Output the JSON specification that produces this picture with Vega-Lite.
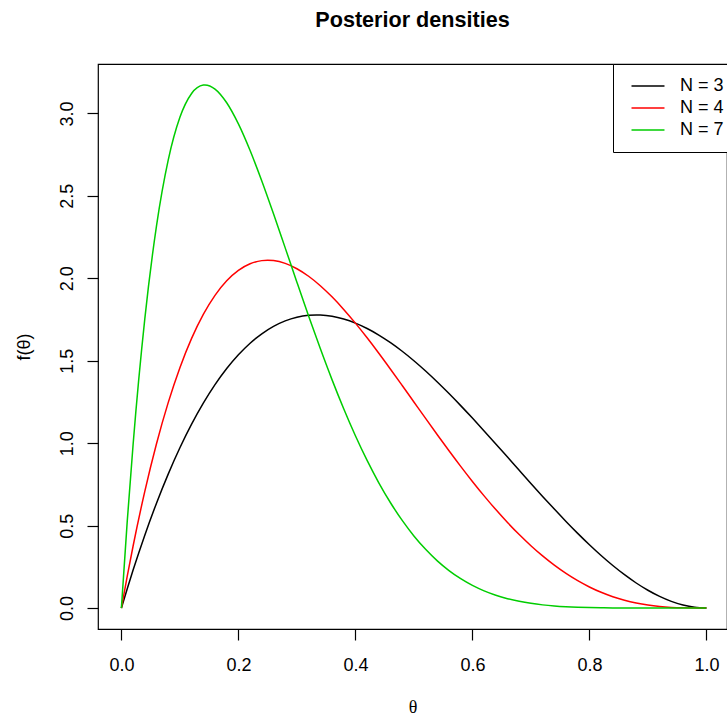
{
  "$schema": "https://vega.github.io/schema/vega-lite/v6.json",
  "autosize": {"type": "none"},
  "padding": {"left": 98, "top": 64, "right": 0, "bottom": 88},
  "width": 629,
  "height": 565,
  "background": "white",
  "title": {"text": "Posterior densities", "anchor": "middle", "frame": "group", "font": "Liberation Sans", "fontSize": 21.6, "fontWeight": "bold", "color": "black", "baseline": "alphabetic", "offset": 15},
  "config": {
    "view": {"stroke": "black", "strokeWidth": 1.2},
    "axis": {"domain": false, "grid": false, "tickColor": "black", "tickSize": 11, "tickWidth": 1.2, "labelFont": "Liberation Sans", "labelFontSize": 18, "labelColor": "black", "labelFlush": false, "labelOverlap": false, "titleColor": "black", "titleFontSize": 18, "titleFontWeight": "normal"}
  },
  "datasets": {
    "curves": [
      {"t": 0, "d": 0, "N": "N = 3"},
      {"t": 0.01, "d": 0.11761, "N": "N = 3"},
      {"t": 0.02, "d": 0.230496, "N": "N = 3"},
      {"t": 0.04, "d": 0.442368, "N": "N = 3"},
      {"t": 0.06, "d": 0.636192, "N": "N = 3"},
      {"t": 0.08, "d": 0.812544, "N": "N = 3"},
      {"t": 0.10, "d": 0.972, "N": "N = 3"},
      {"t": 0.12, "d": 1.115136, "N": "N = 3"},
      {"t": 0.14, "d": 1.242528, "N": "N = 3"},
      {"t": 0.16, "d": 1.354752, "N": "N = 3"},
      {"t": 0.18, "d": 1.452384, "N": "N = 3"},
      {"t": 0.20, "d": 1.536, "N": "N = 3"},
      {"t": 0.22, "d": 1.606176, "N": "N = 3"},
      {"t": 0.24, "d": 1.663488, "N": "N = 3"},
      {"t": 0.26, "d": 1.708512, "N": "N = 3"},
      {"t": 0.28, "d": 1.741824, "N": "N = 3"},
      {"t": 0.30, "d": 1.764, "N": "N = 3"},
      {"t": 0.32, "d": 1.775616, "N": "N = 3"},
      {"t": 0.3333, "d": 1.777778, "N": "N = 3"},
      {"t": 0.34, "d": 1.777248, "N": "N = 3"},
      {"t": 0.36, "d": 1.769472, "N": "N = 3"},
      {"t": 0.38, "d": 1.752864, "N": "N = 3"},
      {"t": 0.40, "d": 1.728, "N": "N = 3"},
      {"t": 0.42, "d": 1.695456, "N": "N = 3"},
      {"t": 0.44, "d": 1.655808, "N": "N = 3"},
      {"t": 0.46, "d": 1.609632, "N": "N = 3"},
      {"t": 0.48, "d": 1.557504, "N": "N = 3"},
      {"t": 0.50, "d": 1.5, "N": "N = 3"},
      {"t": 0.52, "d": 1.437696, "N": "N = 3"},
      {"t": 0.54, "d": 1.371168, "N": "N = 3"},
      {"t": 0.56, "d": 1.300992, "N": "N = 3"},
      {"t": 0.58, "d": 1.227744, "N": "N = 3"},
      {"t": 0.60, "d": 1.152, "N": "N = 3"},
      {"t": 0.62, "d": 1.074336, "N": "N = 3"},
      {"t": 0.64, "d": 0.995328, "N": "N = 3"},
      {"t": 0.66, "d": 0.915552, "N": "N = 3"},
      {"t": 0.68, "d": 0.835584, "N": "N = 3"},
      {"t": 0.70, "d": 0.756, "N": "N = 3"},
      {"t": 0.72, "d": 0.677376, "N": "N = 3"},
      {"t": 0.74, "d": 0.600288, "N": "N = 3"},
      {"t": 0.76, "d": 0.525312, "N": "N = 3"},
      {"t": 0.78, "d": 0.453024, "N": "N = 3"},
      {"t": 0.80, "d": 0.384, "N": "N = 3"},
      {"t": 0.82, "d": 0.318816, "N": "N = 3"},
      {"t": 0.84, "d": 0.258048, "N": "N = 3"},
      {"t": 0.86, "d": 0.202272, "N": "N = 3"},
      {"t": 0.88, "d": 0.152064, "N": "N = 3"},
      {"t": 0.90, "d": 0.108, "N": "N = 3"},
      {"t": 0.92, "d": 0.070656, "N": "N = 3"},
      {"t": 0.94, "d": 0.040608, "N": "N = 3"},
      {"t": 0.96, "d": 0.018432, "N": "N = 3"},
      {"t": 0.98, "d": 0.004704, "N": "N = 3"},
      {"t": 1.0, "d": 0, "N": "N = 3"},
      {"t": 0, "d": 0, "N": "N = 4"},
      {"t": 0.01, "d": 0.19406, "N": "N = 4"},
      {"t": 0.02, "d": 0.376477, "N": "N = 4"},
      {"t": 0.04, "d": 0.707789, "N": "N = 4"},
      {"t": 0.06, "d": 0.996701, "N": "N = 4"},
      {"t": 0.08, "d": 1.245901, "N": "N = 4"},
      {"t": 0.10, "d": 1.458, "N": "N = 4"},
      {"t": 0.12, "d": 1.635533, "N": "N = 4"},
      {"t": 0.14, "d": 1.780957, "N": "N = 4"},
      {"t": 0.16, "d": 1.896653, "N": "N = 4"},
      {"t": 0.18, "d": 1.984925, "N": "N = 4"},
      {"t": 0.20, "d": 2.048, "N": "N = 4"},
      {"t": 0.22, "d": 2.088029, "N": "N = 4"},
      {"t": 0.24, "d": 2.107085, "N": "N = 4"},
      {"t": 0.25, "d": 2.109375, "N": "N = 4"},
      {"t": 0.26, "d": 2.107165, "N": "N = 4"},
      {"t": 0.28, "d": 2.090189, "N": "N = 4"},
      {"t": 0.30, "d": 2.058, "N": "N = 4"},
      {"t": 0.32, "d": 2.012365, "N": "N = 4"},
      {"t": 0.34, "d": 1.954973, "N": "N = 4"},
      {"t": 0.36, "d": 1.887437, "N": "N = 4"},
      {"t": 0.38, "d": 1.811293, "N": "N = 4"},
      {"t": 0.40, "d": 1.728, "N": "N = 4"},
      {"t": 0.42, "d": 1.638941, "N": "N = 4"},
      {"t": 0.44, "d": 1.545421, "N": "N = 4"},
      {"t": 0.46, "d": 1.448669, "N": "N = 4"},
      {"t": 0.48, "d": 1.349837, "N": "N = 4"},
      {"t": 0.50, "d": 1.25, "N": "N = 4"},
      {"t": 0.52, "d": 1.150157, "N": "N = 4"},
      {"t": 0.54, "d": 1.051229, "N": "N = 4"},
      {"t": 0.56, "d": 0.954061, "N": "N = 4"},
      {"t": 0.58, "d": 0.859421, "N": "N = 4"},
      {"t": 0.60, "d": 0.768, "N": "N = 4"},
      {"t": 0.62, "d": 0.680413, "N": "N = 4"},
      {"t": 0.64, "d": 0.597197, "N": "N = 4"},
      {"t": 0.66, "d": 0.518813, "N": "N = 4"},
      {"t": 0.68, "d": 0.445645, "N": "N = 4"},
      {"t": 0.70, "d": 0.378, "N": "N = 4"},
      {"t": 0.72, "d": 0.316109, "N": "N = 4"},
      {"t": 0.74, "d": 0.260125, "N": "N = 4"},
      {"t": 0.76, "d": 0.210125, "N": "N = 4"},
      {"t": 0.78, "d": 0.166109, "N": "N = 4"},
      {"t": 0.80, "d": 0.128, "N": "N = 4"},
      {"t": 0.82, "d": 0.095645, "N": "N = 4"},
      {"t": 0.84, "d": 0.068813, "N": "N = 4"},
      {"t": 0.86, "d": 0.047197, "N": "N = 4"},
      {"t": 0.88, "d": 0.030413, "N": "N = 4"},
      {"t": 0.90, "d": 0.018, "N": "N = 4"},
      {"t": 0.92, "d": 0.009421, "N": "N = 4"},
      {"t": 0.94, "d": 0.004061, "N": "N = 4"},
      {"t": 0.96, "d": 0.001229, "N": "N = 4"},
      {"t": 0.98, "d": 0.000157, "N": "N = 4"},
      {"t": 1.0, "d": 0, "N": "N = 4"},
      {"t": 0, "d": 0, "N": "N = 7"},
      {"t": 0.01, "d": 0.52723, "N": "N = 7"},
      {"t": 0.02, "d": 0.992143, "N": "N = 7"},
      {"t": 0.04, "d": 1.753378, "N": "N = 7"},
      {"t": 0.06, "d": 2.317963, "N": "N = 7"},
      {"t": 0.08, "d": 2.71647, "N": "N = 7"},
      {"t": 0.10, "d": 2.97607, "N": "N = 7"},
      {"t": 0.12, "d": 3.120795, "N": "N = 7"},
      {"t": 0.14, "d": 3.171805, "N": "N = 7"},
      {"t": 0.1429, "d": 3.172556, "N": "N = 7"},
      {"t": 0.16, "d": 3.14763, "N": "N = 7"},
      {"t": 0.18, "d": 3.064391, "N": "N = 7"},
      {"t": 0.20, "d": 2.936013, "N": "N = 7"},
      {"t": 0.22, "d": 2.774464, "N": "N = 7"},
      {"t": 0.24, "d": 2.589888, "N": "N = 7"},
      {"t": 0.26, "d": 2.390839, "N": "N = 7"},
      {"t": 0.28, "d": 2.184444, "N": "N = 7"},
      {"t": 0.30, "d": 1.976503, "N": "N = 7"},
      {"t": 0.32, "d": 1.771697, "N": "N = 7"},
      {"t": 0.34, "d": 1.573732, "N": "N = 7"},
      {"t": 0.36, "d": 1.385375, "N": "N = 7"},
      {"t": 0.38, "d": 1.208704, "N": "N = 7"},
      {"t": 0.40, "d": 1.045094, "N": "N = 7"},
      {"t": 0.42, "d": 0.895383, "N": "N = 7"},
      {"t": 0.44, "d": 0.759922, "N": "N = 7"},
      {"t": 0.46, "d": 0.638719, "N": "N = 7"},
      {"t": 0.48, "d": 0.531444, "N": "N = 7"},
      {"t": 0.50, "d": 0.4375, "N": "N = 7"},
      {"t": 0.52, "d": 0.356167, "N": "N = 7"},
      {"t": 0.54, "d": 0.286503, "N": "N = 7"},
      {"t": 0.56, "d": 0.227558, "N": "N = 7"},
      {"t": 0.58, "d": 0.178283, "N": "N = 7"},
      {"t": 0.60, "d": 0.137626, "N": "N = 7"},
      {"t": 0.62, "d": 0.104538, "N": "N = 7"},
      {"t": 0.64, "d": 0.078016, "N": "N = 7"},
      {"t": 0.66, "d": 0.057096, "N": "N = 7"},
      {"t": 0.68, "d": 0.040887, "N": "N = 7"},
      {"t": 0.70, "d": 0.028577, "N": "N = 7"},
      {"t": 0.72, "d": 0.01943, "N": "N = 7"},
      {"t": 0.74, "d": 0.012802, "N": "N = 7"},
      {"t": 0.76, "d": 0.008133, "N": "N = 7"},
      {"t": 0.78, "d": 0.004952, "N": "N = 7"},
      {"t": 0.80, "d": 0.002867, "N": "N = 7"},
      {"t": 0.82, "d": 0.001562, "N": "N = 7"},
      {"t": 0.84, "d": 0.000789, "N": "N = 7"},
      {"t": 0.86, "d": 0.000363, "N": "N = 7"},
      {"t": 0.88, "d": 0.000147, "N": "N = 7"},
      {"t": 0.90, "d": 0.00005, "N": "N = 7"},
      {"t": 0.92, "d": 0.0000135, "N": "N = 7"},
      {"t": 0.94, "d": 0.000003, "N": "N = 7"},
      {"t": 0.96, "d": 0.0000003, "N": "N = 7"},
      {"t": 0.98, "d": 0, "N": "N = 7"},
      {"t": 1.0, "d": 0, "N": "N = 7"}
    ]
  },
  "data": {"name": "curves"},
  "mark": {"type": "line", "strokeWidth": 1.5, "interpolate": "monotone", "clip": true},
  "encoding": {
    "x": {
      "field": "t", "type": "quantitative",
      "scale": {"domain": [-0.04, 1.0352], "nice": false, "zero": false},
      "axis": {"values": [0, 0.2, 0.4, 0.6, 0.8, 1.0], "format": ".1f", "labelBaseline": "alphabetic", "labelPadding": 30, "title": "θ", "titleFont": "Liberation Serif", "titleBaseline": "alphabetic", "titleY": 83, "titleX": 314.5}
    },
    "y": {
      "field": "d", "type": "quantitative",
      "scale": {"domain": [-0.1269, 3.2995], "nice": false, "zero": false},
      "axis": {"values": [0, 0.5, 1.0, 1.5, 2.0, 2.5, 3.0], "format": ".1f", "labelAngle": -90, "labelAlign": "center", "labelBaseline": "alphabetic", "labelPadding": 15, "title": "f(θ)", "titleFont": "Liberation Sans", "titleAngle": -90, "titleAlign": "center", "titleBaseline": "alphabetic", "titleX": -69, "titleY": 282.5}
    },
    "color": {
      "field": "N", "type": "nominal",
      "scale": {"domain": ["N = 3", "N = 4", "N = 7"], "range": ["black", "#FF0000", "#00CD00"]},
      "legend": {"orient": "none", "legendX": 515, "legendY": 0, "title": null, "strokeColor": "black", "fillColor": "white", "padding": 13, "symbolType": "M-2,0L2,0", "symbolSize": 272, "symbolStrokeWidth": 1.5, "symbolOffset": 13, "labelFont": "Liberation Sans", "labelFontSize": 18, "labelColor": "black", "labelOffset": 23, "rowPadding": 4}
    }
  }
}
